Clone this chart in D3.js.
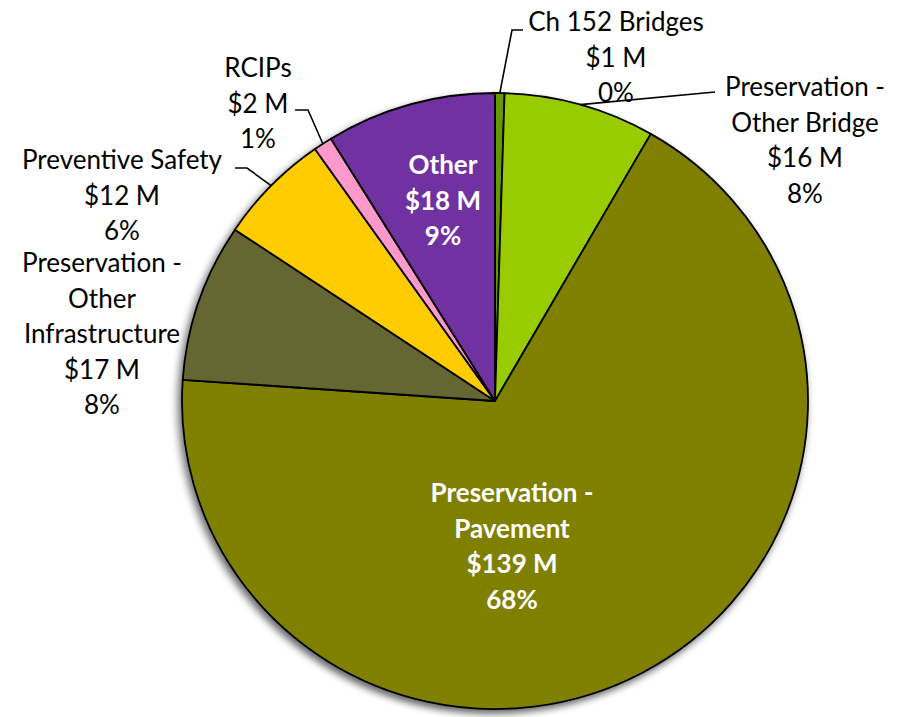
<!DOCTYPE html>
<html>
<head>
<meta charset="utf-8">
<script src="https://cdn.jsdelivr.net/npm/d3@7"></script>
<style>
	body { margin: 0; background: #fff; }
	text { font-family: "Lato", "Open Sans", sans-serif; }
</style>
</head>
<body>
<div id="chart"></div>
<script>
// data (clockwise from 12 o'clock)
var categories = ["Ch 152 Bridges", "Preservation - Other Bridge", "Preservation - Pavement",
	"Preservation - Other Infrastructure", "Preventive Safety", "RCIPs", "Other"];
var amounts = [1, 16, 139, 17, 12, 2, 18];           // $ M
var percents = ["0%", "8%", "68%", "8%", "6%", "1%", "9%"];
var amountLabels = ["$1 M", "$16 M", "$139 M", "$17 M", "$12 M", "$2 M", "$18 M"];
var colors = ["#669900", "#99cc00", "#808000", "#666633", "#ffcc00", "#ff99cc", "#7030a0"];

var w = 905;
var h = 717;
var cx = 495, cy = 401;
var rx = 313, ry = 308;

// label layout: first text line y, center x, lines, fill, weight, leader (elbow,end)
var labelLayout = [
	{x: 616, y: 22, lines: ["Ch 152 Bridges"], leader: [[512, 30], [523, 30]]},
	{x: 805, y: 87, lines: ["Preservation -", "Other Bridge"], leader: [[715, 92]]},
	{x: 512, y: 493, lines: ["Preservation -", "Pavement"], inside: true},
	{x: 102, y: 263, lines: ["Preservation -", "Other", "Infrastructure"]},
	{x: 122, y: 160, lines: ["Preventive Safety"], leader: [[247, 168], [235, 168]]},
	{x: 258, y: 68, lines: ["RCIPs"], leader: [[308, 110], [295, 110]]},
	{x: 443, y: 165, lines: ["Other"], inside: true}
];

var svg = d3.select("#chart")
	.append("svg")
	.attr("width", w)
	.attr("height", h);

var defs = svg.append("defs");
var shadow = defs.append("filter")
	.attr("id", "shadow")
	.attr("x", "-10%").attr("y", "-10%")
	.attr("width", "120%").attr("height", "120%");
shadow.append("feGaussianBlur").attr("in", "SourceAlpha").attr("stdDeviation", 4);
shadow.append("feOffset").attr("dx", -3).attr("dy", 4).attr("result", "blur");
shadow.append("feComponentTransfer").append("feFuncA").attr("type", "linear").attr("slope", 0.6);
var merge = shadow.append("feMerge");
merge.append("feMergeNode");
merge.append("feMergeNode").attr("in", "SourceGraphic");

var pie = d3.pie().sort(null).value(d => d);
var arcs = pie(amounts);

var arc = d3.arc().innerRadius(0).outerRadius(rx);

var g = svg.append("g")
	.attr("transform", "translate(" + cx + "," + cy + ") scale(1," + (ry / rx) + ")");

g.append("g")
	.attr("filter", "url(#shadow)")
	.selectAll("path")
	.data(arcs)
	.enter()
	.append("path")
	.attr("d", arc)
	.attr("fill", (d, i) => colors[i])
	.attr("stroke", "black")
	.attr("stroke-width", 1.8)
	.attr("stroke-linejoin", "round")
	.attr("vector-effect", "non-scaling-stroke");

// leader lines from the rim at the middle of each slice
function rimPoint(d) {
	var a = (d.startAngle + d.endAngle) / 2;
	return [cx + rx * Math.sin(a), cy - ry * Math.cos(a)];
}

var line = d3.line();
svg.selectAll(".leader")
	.data(arcs.filter((d, i) => labelLayout[i].leader))
	.enter()
	.append("path")
	.attr("class", "leader")
	.attr("d", d => line([rimPoint(d)].concat(labelLayout[d.index].leader)))
	.attr("fill", "none")
	.attr("stroke", "black")
	.attr("stroke-width", 1.6);

var lineGap = 35.5;
arcs.forEach(function(d, i) {
	var lay = labelLayout[i];
	var rows = lay.lines.concat([amountLabels[i], percents[i]]);
	var t = svg.append("text")
		.attr("text-anchor", "middle")
		.attr("font-size", 26)
		.attr("font-weight", lay.inside ? "bold" : "normal")
		.attr("fill", lay.inside ? "white" : "black");
	rows.forEach(function(r, j) {
		t.append("tspan")
			.attr("x", lay.x)
			.attr("y", lay.y + j * lineGap)
			.attr("dy", "0.35em")
			.text(r);
	});
});
</script>
</body>
</html>
